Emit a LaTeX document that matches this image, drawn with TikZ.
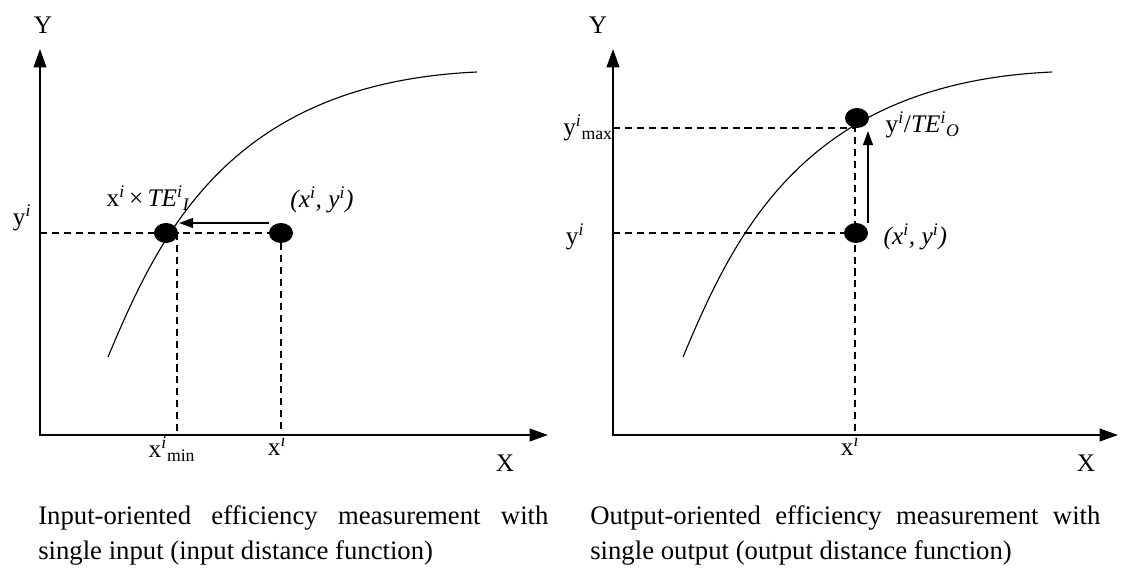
\documentclass[tikz,border=0pt]{standalone}
\usepackage{fontspec}
\setmainfont{Liberation Serif}
\usetikzlibrary{arrows.meta,calc,positioning,shapes.geometric}

\newcommand{\lblfont}{\fontsize{18}{25}\selectfont}
\newcommand{\capfont}{\fontsize{19}{25}\selectfont}
\tikzset{
  axis/.style={line width=1.3pt, {Triangle[length=13pt,width=9pt]}-{Triangle[length=13pt,width=9pt]}},
  guide/.style={line width=0.8pt, dash pattern=on 5pt off 3.5pt},
  frontier/.style={line width=0.8pt},
  move/.style={line width=1.2pt, -{Triangle[length=10pt,width=7pt]}},
  dot/.style={ellipse, fill=black, inner sep=0pt, minimum width=0.6cm, minimum height=0.5cm},
  lbl/.style={font=\lblfont, inner sep=1pt},
  caption/.style={font=\capfont, anchor=north west, text width=12.75cm, align=justify, inner sep=0pt}
}

\begin{document}
\begin{tikzpicture}[x=0.025cm, y=0.025cm]
                \useasboundingbox (0,0) rectangle (1125,573);
                % input-oriented panel
                \coordinate (oL) at (40,138);
                \coordinate (yL) at (40,524);
                \coordinate (xL) at (548,138);
                \draw[axis] (yL) -- (oL) -- (xL);
                \draw[frontier] (108,216) .. controls (160,340) and (230,490) .. (477,501);
                \node[dot] (effL) at (166,340) {};
                \node[dot] (obsL) at (281,340) {};
                \coordinate (minL) at (177,138);
                \draw[guide] (oL |- obsL) -- (obsL.center) -- (obsL |- oL);
                \draw[guide] (minL |- effL) -- (minL);
                \coordinate (mvL1) at (269,350);
                \coordinate (mvL2) at (179,350);
                \draw[move] (mvL1) -- (mvL2);
                \node[lbl] (Ylbl) at (43,548) {Y};
                \node[lbl] (Xlbl) at (505,110) {X};
                \node[lbl] (yiL) at (22,355) {y\textsuperscript{\textit{i}}};
                \node[lbl] (effLbl) at (148,375) {x\textsuperscript{\textit{i}}\,\texttimes\,\textit{TE\textsuperscript{i}\textsubscript{I}}};
                \node[lbl] (obsLbl) at (322,373) {\textit{(x\textsuperscript{i}, y\textsuperscript{i})}};
                \node[lbl] (xminL) at (172,124) {x\textsuperscript{\textit{i}}\textsubscript{min}};
                \node[lbl] (xiL) at (277,128) {x\textsuperscript{\textit{i}}};
                % output-oriented panel
                \coordinate (oR) at (613,138);
                \coordinate (yR) at (613,524);
                \coordinate (xR) at (1118,138);
                \draw[axis] (yR) -- (oR) -- (xR);
                \draw[frontier] (683,216) .. controls (735,340) and (805,490) .. (1052,501);
                \node[dot] (optR) at (857,455) {};
                \node[dot] (obsR) at (856,340) {};
                \coordinate (maxR) at (855,445);
                \draw[guide] (oR |- maxR) -- (maxR) -- (maxR |- oR);
                \draw[guide] (oR |- obsR) -- (obsR.center);
                \coordinate (mvR1) at (868,350);
                \coordinate (mvR2) at (868,442);
                \draw[move] (mvR1) -- (mvR2);
                \node[lbl] (Ylbr) at (598,548) {Y};
                \node[lbl] (Xlbr) at (1086,110) {X};
                \node[lbl] (ymaxR) at (588,445) {y\textsuperscript{\textit{i}}\textsubscript{max}};
                \node[lbl] (yiR) at (575,336) {y\textsuperscript{\textit{i}}};
                \node[lbl, anchor=west] (optLbl) at (884,448) {y\textsuperscript{\textit{i}}/\textit{TE\textsuperscript{i}\textsubscript{O}}};
                \node[lbl, anchor=west] (obsLbr) at (882,336) {\textit{(x\textsuperscript{i}, y\textsuperscript{i})}};
                \node[lbl] (xiR) at (850,128) {x\textsuperscript{\textit{i}}};
                % captions
                \node[caption] (capL) at (38,68)
                  {\hyphenpenalty=10000 Input-oriented efficiency measurement with\linebreak single input (input distance function)};
                \node[caption] (capR) at (590,68)
                  {\hyphenpenalty=10000 Output-oriented efficiency measurement with\linebreak single output (output distance function)};
            \end{tikzpicture}
\end{document}
